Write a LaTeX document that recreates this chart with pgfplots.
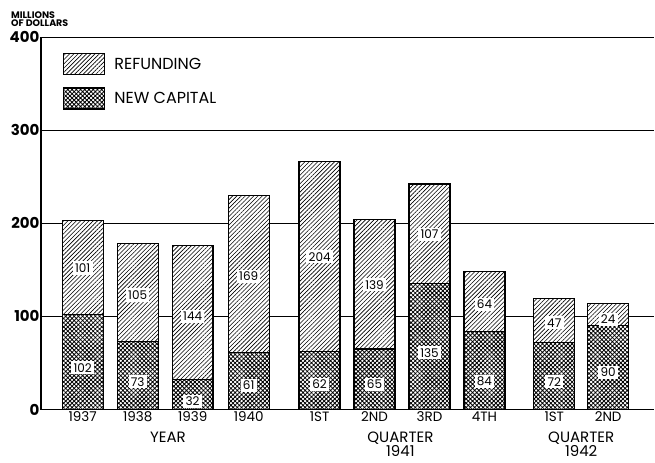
\documentclass[border=0pt]{standalone}
\usepackage{pgfplots}
\pgfplotsset{compat=1.18}
\usepackage{pgfplotstable}
\usetikzlibrary{patterns.meta}
\usepackage{fontspec}
\setmainfont{Poppins}

\pgfplotstableread{
x new ref
0 102 101
1 73 105
2 32 144
3.02 61 169
4.31 62 204
5.31 65 139
6.31 135 107
7.31 84 64
8.58 72 47
9.56 90 24
}\data

% label positions (value units) and texts
\pgfplotstableread{
x y lab
0 45 102
0 152 101
1 30 73
1 123 105
2 9 32
2 100 144
3.02 26 61
3.02 143 169
4.31 27 62
4.31 164 204
5.31 27 65
5.31 134 139
6.31 61 135
6.31 188 107
7.31 30 84
7.31 113 64
8.58 30 72
8.58 93 47
9.56 40 90
9.56 97 24
}\labels

\pgfplotsset{commonaxis/.style={
  scale only axis, width=614pt, height=373pt,
  xmin=-0.76, xmax=10.4, ymin=0, ymax=400, clip=false}}

\begin{document}
\begin{tikzpicture}
\begin{axis}[
  commonaxis,
  ybar stacked, bar width=0.745,
  axis lines*=left, axis line style={line width=1.4pt},
  ymajorgrids, grid style={line width=0.9pt, black},
  ytick={0,100,200,300,400},
  xtick={0,1,2,3.02,4.31,5.31,6.31,7.31,8.58,9.56},
  xticklabels={1937,1938,1939,1940,1ST,2ND,3RD,4TH,1ST,2ND},
  tick style={draw=none},
  /pgf/number format/assume math mode=true,
  yticklabel style={font=\fontsize{15}{15}\selectfont\bfseries, xshift=2pt},
  xticklabel style={font=\fontsize{13.5}{13}\selectfont, yshift=-1pt, inner sep=1pt},
  legend style={draw=none, fill=none, at={(axis description cs:0,1)}, anchor=north west,
    xshift=22pt, yshift=-16pt, font=\fontsize{16}{16}\selectfont, row sep=12pt, inner sep=0pt},
  legend cell align=left,
  reverse legend,
  legend image code/.code={\draw[#1] (0pt,-10.5pt) rectangle (41pt,10.5pt); \path (48pt,0pt);},
]
\addplot[draw=black, line width=1.3pt, fill=white,
  postaction={pattern={Hatch[angle=45,distance=3pt,line width=0.8pt]}}]
  table[x=x,y=new]{\data};
\addlegendentry{NEW CAPITAL}
\addplot[draw=black, line width=1.3pt, fill=white,
  postaction={pattern={Lines[angle=45,distance=3pt,line width=0.6pt]}}]
  table[x=x,y=ref]{\data};
\addlegendentry{REFUNDING}

\node[font=\fontsize{15}{14}\selectfont, anchor=north, yshift=-19pt] at (axis cs:1.55,0) {YEAR};
\node[font=\fontsize{15}{14}\selectfont, anchor=north, yshift=-19pt, align=center] at (axis cs:5.78,0) {QUARTER\\1941};
\node[font=\fontsize{15}{14}\selectfont, anchor=north, yshift=-19pt, align=center] at (axis cs:9.07,0) {QUARTER\\1942};
\node[font=\fontsize{9.5}{8}\selectfont\bfseries, anchor=south west, align=left, inner sep=0pt]
  at (rel axis cs:0,1) [xshift=-30pt, yshift=10pt] {MILLIONS\\OF DOLLARS};
\end{axis}
\begin{axis}[commonaxis, hide axis]
\addplot[only marks, mark=none, nodes near coords, point meta=explicit symbolic,
  every node near coord/.append style={anchor=center, fill=white, inner sep=2.2pt,
    font=\fontsize{12}{12}\selectfont, text=black}]
  table[x=x,y=y,meta=lab]{\labels};
\end{axis}
\path (current axis.south west) ++(-41pt,-53pt) rectangle ++(655pt,463pt);
\end{tikzpicture}
\end{document}
